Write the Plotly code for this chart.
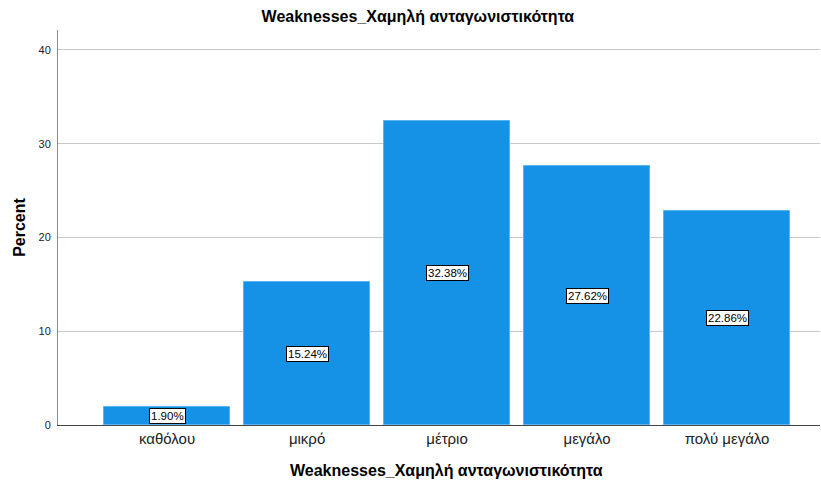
import plotly.graph_objects as go

categories = ["καθόλου", "μικρό", "μέτριο", "μεγάλο", "πολύ μεγάλο"]
percents = [1.90, 15.24, 32.38, 27.62, 22.86]
y_ticks = [0, 10, 20, 30, 40]

title = "Weaknesses_Χαμηλή ανταγωνιστικότητα"
font = "Liberation Sans, Arial, sans-serif"

fig = go.Figure()
fig.add_trace(
    go.Bar(
        x=list(range(len(categories))),
        y=percents,
        width=0.9,
        marker=dict(color="#1591e5", line=dict(color="#5ab4f0", width=1)),
        hoverinfo="skip",
    )
)

# labels sit in the middle of each bar, SPSS style
for i, v in enumerate(percents):
    fig.add_annotation(
        x=i,
        y=v / 2,
        text=f"{v:.2f}%",
        showarrow=False,
        font=dict(family=font, size=11.5, color="black"),
        bgcolor="white",
        bordercolor="black",
        borderwidth=1,
        borderpad=1,
    )

# x title is slightly right of the plot centre in the original
fig.add_annotation(
    x=0.51,
    xref="paper",
    y=-0.115,
    yref="paper",
    yanchor="middle",
    text=f"<b>{title}</b>",
    showarrow=False,
    font=dict(family=font, size=16, color="black"),
)

fig.update_layout(
    template="none",
    width=821,
    height=481,
    margin=dict(l=58, r=1, t=30, b=56, pad=0),
    paper_bgcolor="white",
    plot_bgcolor="white",
    showlegend=False,
    bargap=0,
    title=dict(
        text=f"<b>{title}</b>",
        x=0.509,
        xanchor="center",
        y=0.965,
        yanchor="middle",
        font=dict(family=font, size=16, color="black"),
    ),
)

fig.update_xaxes(
    tickvals=list(range(len(categories))),
    ticktext=categories,
    range=[-0.779, 4.664],
    showgrid=False,
    zeroline=False,
    showline=True,
    linecolor="#444444",
    linewidth=1,
    ticks="",
    tickfont=dict(family=font, size=15, color="#222222"),
)

fig.update_yaxes(
    tickvals=y_ticks,
    range=[0, 42.13],
    showgrid=True,
    gridcolor="#c8c8c8",
    gridwidth=1,
    zeroline=False,
    showline=True,
    linecolor="#888888",
    linewidth=1,
    ticks="",
    ticklabelstandoff=4,
    tickfont=dict(family=font, size=11, color="#222222"),
    title=dict(
        text="<b>Percent</b>",
        font=dict(family=font, size=16, color="black"),
        standoff=8,
    ),
)

# drop the browser's default body margin so the figure sits at the page origin
fig.write_html(
    "out.html",
    config={"displayModeBar": False},
    post_script="document.body.style.margin='0';",
)
